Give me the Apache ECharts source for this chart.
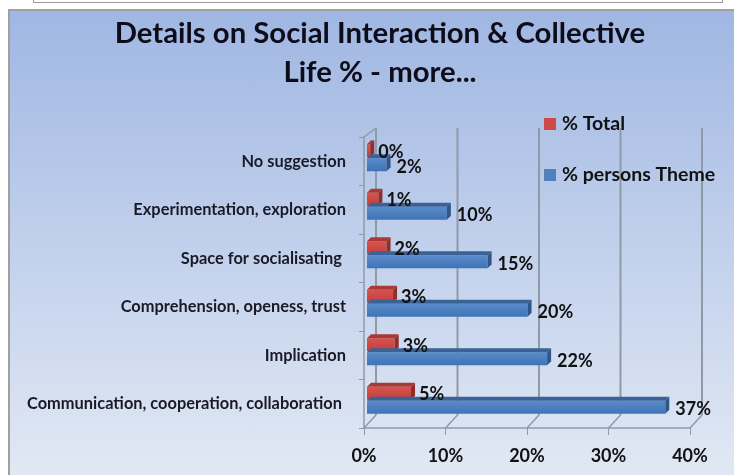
<!DOCTYPE html>
<html><head><meta charset="utf-8">
<style>html,body{margin:0;padding:0;background:#fff;overflow:hidden}
#strip{position:absolute;left:33px;top:-2px;width:688px;height:3px;border:1px solid #9a9a9a;background:#fff}
#frame{position:absolute;left:8px;top:9px;width:730px;height:470px;border:2px solid #a0a0a0;background:linear-gradient(#a0b7e3,#e2e9f4)}
#c{position:absolute;left:0;top:0;width:734px;height:475px}</style>
<script src="https://cdn.jsdelivr.net/npm/echarts@6/dist/echarts.min.js"></script>
</head><body><div id="strip"></div><div id="frame"></div><div id="c"></div>
<script>
const categories = ['No suggestion','Experimentation, exploration','Space for socialisating ','Comprehension, openess, trust','Implication','Communication, cooperation, collaboration '];
const totalValues = [0.4,1.4,2.4,3.2,3.4,5.4];
const themeValues = [2.4,9.8,14.8,19.7,22.1,36.6];
const axisTicks = [0,10,20,30,40];
const titleLines = 'Details on Social Interaction & Collective\nLife % - more...';
const FONT = 'Lato, "Open Sans", sans-serif';
const DEPTH_X = 12, DEPTH_Y = 13, WALL = '#8f9aa8';
const chart = echarts.init(document.getElementById('c'), null, {renderer:'canvas'});

function barSeries(name, values, front, top, side, yOff, h, labelDy){
  return {
    name, type:'custom', coordinateSystem:'cartesian2d', z:3,
    itemStyle:{color:front[2]},
    data: values.map((v,i)=>[v,i]),
    renderItem(params, api){
      const end = api.coord([api.value(0), api.value(1)]);
      const start = api.coord([0, api.value(1)]);
      const x0 = start[0]+3, x1 = end[0]+3, y0 = end[1]+yOff, d = 4;
      return {type:'group', children:[
        {type:'rect', shape:{x:x0,y:y0,width:x1-x0,height:h},
          style:{fill:new echarts.graphic.LinearGradient(0,0,0,1,[{offset:0,color:front[0]},{offset:1,color:front[1]}])}},
        {type:'polygon', shape:{points:[[x0,y0],[x0+d,y0-d],[x1+d,y0-d],[x1,y0]]}, style:{fill:top}},
        {type:'polygon', shape:{points:[[x1,y0],[x1+d,y0-d],[x1+d,y0+h-d],[x1,y0+h]]}, style:{fill:side}},
        {type:'text', z2:50, style:{x:x1+d+labelDy[0], y:y0+h/2+labelDy[1], text:Math.round(api.value(0))+'%',
          font:'bold 18px '+FONT, fill:'#111', textVerticalAlign:'middle'}}
      ]};
    }
  };
}

chart.setOption({
  animation:false,
  title:{text:titleLines, left:375, textAlign:'center', top:9, itemGap:0,
    textStyle:{fontFamily:FONT,fontWeight:'bold',fontSize:29.3,lineHeight:39,color:'#0d0d1a'}},
  legend:{orient:'vertical', left:544, top:114, padding:0, itemWidth:12, itemHeight:12, itemGap:31, icon:'rect',
    data:['% Total','% persons Theme'],
    textStyle:{fontFamily:FONT,fontWeight:'bold',fontSize:19.5,color:'#111',padding:[0,0,0,1]}},
  grid:{left:364, top:137, width:326, height:291},
  xAxis:{type:'value', min:0, max:40, interval:10,
    axisLine:{show:true,lineStyle:{color:WALL,width:1.5}},
    axisTick:{show:true,length:7,lineStyle:{color:WALL}},
    splitLine:{show:false},
    axisLabel:{formatter:'{value}%',margin:19,fontFamily:FONT,fontWeight:'bold',fontSize:18,color:'#111'}},
  yAxis:{type:'category', data:categories, inverse:true,
    axisLine:{show:true,lineStyle:{color:WALL,width:1.5}},
    axisTick:{show:true,length:5,lineStyle:{color:WALL}},
    axisLabel:{margin:18,fontFamily:FONT,fontWeight:'bold',fontSize:16.4,color:'#1a1a26',padding:[10,0,0,0]}},
  series:[
    {type:'custom', coordinateSystem:'cartesian2d', z:1, silent:true, legendHoverLink:false,
     data:axisTicks.map(t=>[t]),
     renderItem(params, api){
       const p = api.coord([api.value(0), 5]);
       const base = 428, topY = 128;
       const s = {stroke:WALL, lineWidth:1.5};
       return {type:'group', children:[
         {type:'line', shape:{x1:p[0],y1:base,x2:p[0]+DEPTH_X,y2:base-DEPTH_Y}, style:s},
         {type:'line', shape:{x1:p[0]+DEPTH_X,y1:base-DEPTH_Y,x2:p[0]+DEPTH_X,y2:topY}, style:{stroke:WALL,lineWidth:2}},
         ...(api.value(0)===0 ? [{type:'line', shape:{x1:p[0],y1:137,x2:p[0]+DEPTH_X,y2:topY}, style:s}] : [])
       ]};
     }},
    barSeries('% Total', totalValues, ['#d9534f','#bf3f3c','#cf4a46'], '#a83a36', '#8f2e2b', -17, 13, [4,1]),
    barSeries('% persons Theme', themeValues, ['#5a8ccb','#3f73b5','#4f81bd'], '#3a6296', '#2f5687', -3, 13, [6,2])
  ]
});
</script></body></html>
